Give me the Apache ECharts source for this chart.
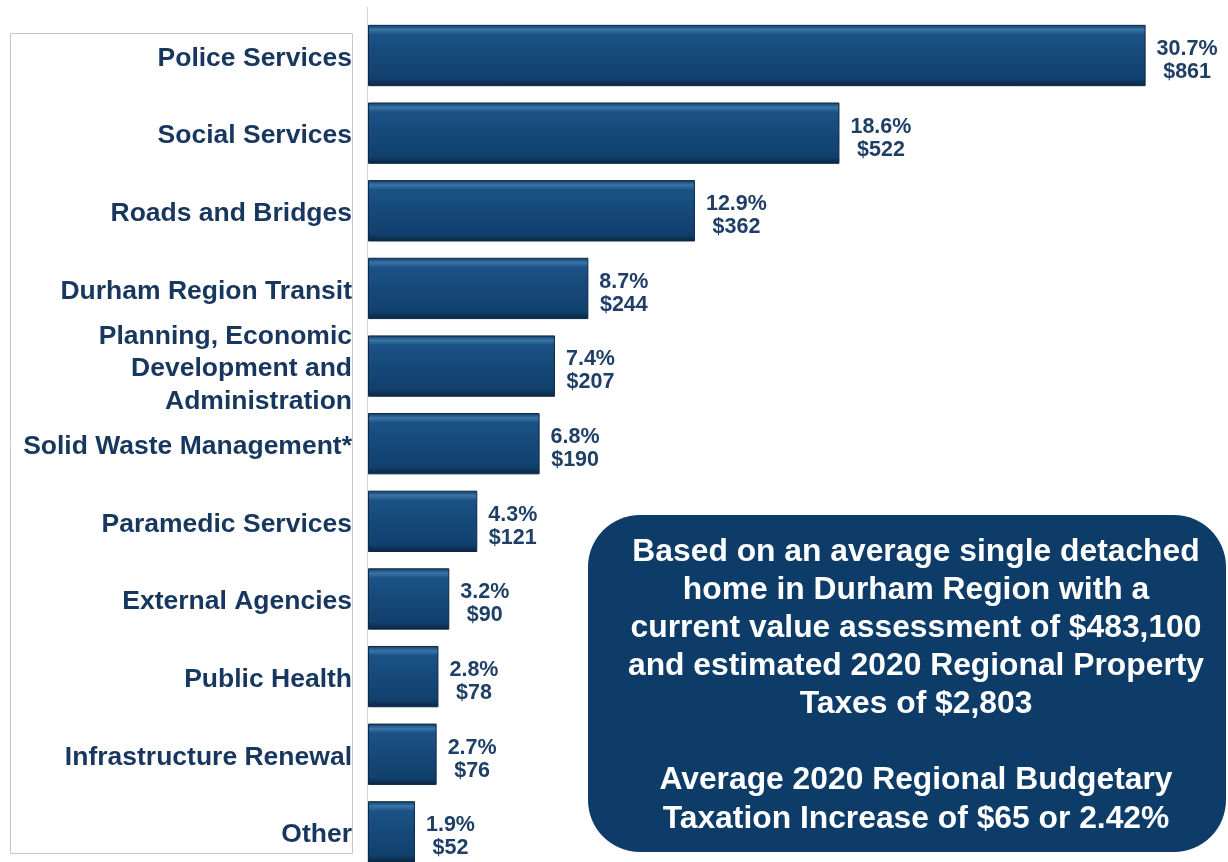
<!DOCTYPE html>
<html>
<head>
<meta charset="utf-8">
<script src="https://cdn.jsdelivr.net/npm/echarts@6/dist/echarts.min.js"></script>
<style>
  html, body { margin: 0; padding: 0; background: #ffffff; }
  #chart { width: 1228px; height: 862px; }
</style>
</head>
<body>
<div id="chart"></div>
<script>
// Regional property tax breakdown per average home (2020)
const categories = [
  'Police Services',
  'Social Services',
  'Roads and Bridges',
  'Durham Region Transit',
  'Planning, Economic\nDevelopment and\nAdministration',
  'Solid Waste Management*',
  'Paramedic Services',
  'External Agencies',
  'Public Health',
  'Infrastructure Renewal',
  'Other'
];
const dollars = [861, 522, 362, 244, 207, 190, 121, 90, 78, 76, 52];
const shares = ['30.7%', '18.6%', '12.9%', '8.7%', '7.4%', '6.8%', '4.3%', '3.2%', '2.8%', '2.7%', '1.9%'];

const noteLines = [
  'Based on an average single detached',
  'home in Durham Region with a',
  'current value assessment of $483,100',
  'and estimated 2020 Regional Property',
  'Taxes of $2,803',
  '',
  'Average 2020 Regional Budgetary',
  'Taxation Increase of $65 or 2.42%'
];

const FONT = '"Liberation Sans", Arial, sans-serif';
const NAVY_TEXT = '#17375e';

const chart = echarts.init(document.getElementById('chart'), null, { renderer: 'canvas' });

// bevelled navy fill: light rim along the top, dark rim along the bottom
const barFill = new echarts.graphic.LinearGradient(0, 0, 0, 1, [
  { offset: 0, color: '#0f3a63' },
  { offset: 0.08, color: '#3a74a8' },
  { offset: 0.16, color: '#1b5285' },
  { offset: 0.6, color: '#144676' },
  { offset: 0.88, color: '#11406d' },
  { offset: 1, color: '#0a2540' }
]);

const catTextStyle = {
  color: NAVY_TEXT,
  fontFamily: FONT,
  fontWeight: 'bold',
  fontSize: 26.5,
  lineHeight: 32.5,
  align: 'right'
};

chart.setOption({
  backgroundColor: '#ffffff',
  animation: false,
  // the last row runs past the bottom edge of the canvas
  grid: {
    left: 368, width: 858, top: 16.7, height: 854,
    outerBoundsMode: 'none', containLabel: false
  },
  xAxis: {
    type: 'value', min: 0, max: 950, show: false
  },
  yAxis: {
    type: 'category', inverse: true, data: categories,
    axisLine: { show: false }, axisTick: { show: false },
    axisLabel: {
      margin: 16,
      align: 'right',
      // a short spacer line on top nudges each label slightly lower
      formatter: v => '{s| }\n' + v.split('\n').map(t => '{c|' + t + '}').join('\n'),
      rich: {
        s: { fontSize: 4, lineHeight: 6, align: 'right' },
        c: catTextStyle
      }
    }
  },
  series: [{
    type: 'bar',
    data: dollars,
    barCategoryGap: '21%',
    itemStyle: { color: barFill, borderColor: '#0a2847', borderWidth: 1 },
    label: {
      show: true,
      position: 'right',
      distance: 11,
      offset: [0, 5],
      formatter: p => '{v|' + shares[p.dataIndex] + '}\n{v|$' + dollars[p.dataIndex] + '}',
      rich: {
        v: {
          align: 'center',
          color: '#1f3f66',
          fontFamily: FONT,
          fontWeight: 'bold',
          fontSize: 21.5,
          lineHeight: 23
        }
      }
    }
  }],
  graphic: [
    {
      type: 'rect', z: -1, silent: true,
      shape: { x: 10.5, y: 33.5, width: 342, height: 820 },
      style: { fill: 'none', stroke: '#c8c8c8', lineWidth: 1 }
    },
    {
      type: 'line', z: 5, silent: true,
      shape: { x1: 367.5, y1: 7, x2: 367.5, y2: 862 },
      style: { stroke: '#d4d4d4', lineWidth: 1 }
    },
    {
      type: 'rect', z: 10, silent: true,
      shape: { x: 588, y: 515, width: 638, height: 337, r: 52 },
      style: { fill: '#0e3c69' }
    },
    {
      type: 'text', z: 11, silent: true,
      x: 916, y: 533,
      style: {
        text: noteLines.join('\n'),
        fill: '#ffffff',
        font: 'bold 31.8px ' + FONT,
        lineHeight: 38.1,
        align: 'center',
        verticalAlign: 'top'
      }
    }
  ]
});
</script>
</body>
</html>
